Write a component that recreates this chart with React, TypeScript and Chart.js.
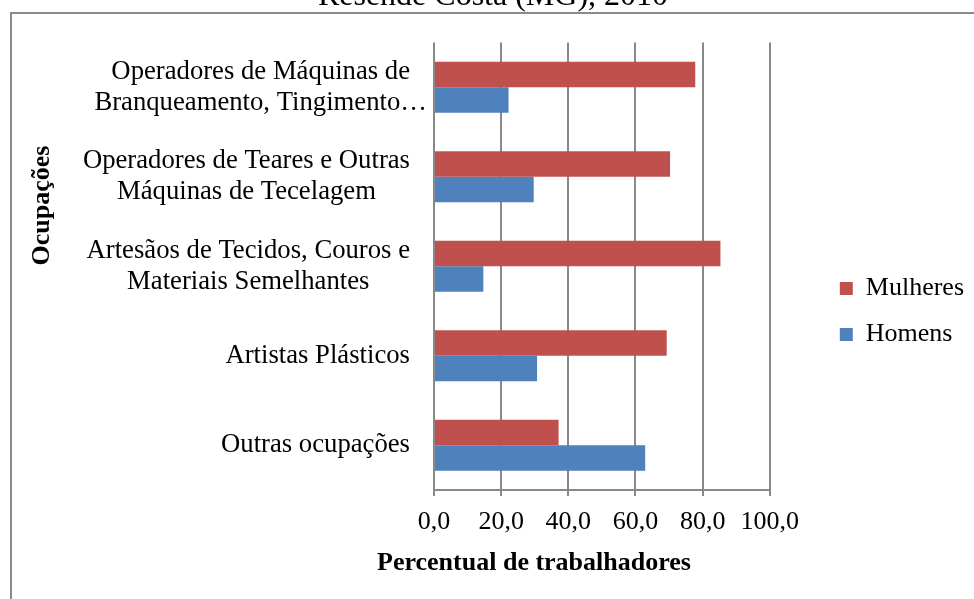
import React, { useEffect, useRef } from 'react';
import { Chart, registerables } from 'chart.js';

Chart.register(...registerables);

const chartTitle = 'Resende Costa (MG), 2010';
const categories: string[][] = [
  ['Operadores de Máquinas de', 'Branqueamento, Tingimento…'],
  ['Operadores de Teares e Outras', 'Máquinas de Tecelagem'],
  ['Artesãos de Tecidos, Couros e', 'Materiais Semelhantes'],
  ['Artistas Plásticos'],
  ['Outras ocupações'],
];
const seriesNames = ['Mulheres', 'Homens'];
const mulheres = [77.8, 70.3, 85.3, 69.3, 37.1];
const homens = [22.2, 29.7, 14.7, 30.7, 62.9];
const xMin = 0;
const xMax = 100;
const xStep = 20;
const xAxisTitle = 'Percentual de trabalhadores';
const yAxisTitle = 'Ocupações';

const FONT = '"Liberation Serif", "Times New Roman", serif';
const GRID = '#888888';

const customText = {
  id: 'customText',
  afterDraw(chart: any) {
    const { ctx, chartArea } = chart;
    const yScale = chart.scales.y;
    ctx.save();
    ctx.fillStyle = '#000';
    ctx.font = `26.7px ${FONT}`;
    ctx.textBaseline = 'middle';
    ctx.textAlign = 'center';
    const right = chartArea.left - 24;
    const lh = 31;
    categories.forEach((lines, i) => {
      const cy = yScale.getPixelForTick(i);
      const w = ctx.measureText(lines[0]).width;
      const cx = right - w / 2;
      lines.forEach((ln, j) => {
        ctx.fillText(ln, cx, cy + (j - (lines.length - 1) / 2) * lh);
      });
    });
    ctx.font = `bold 26px ${FONT}`;
    ctx.fillText(xAxisTitle, chartArea.left + 100, chartArea.bottom + 73);
    ctx.translate(chartArea.left - 392, chartArea.top + 163);
    ctx.rotate(-Math.PI / 2);
    ctx.fillText(yAxisTitle, 0, 0);
    ctx.restore();
  },
};

export default function App() {
  const ref = useRef<HTMLCanvasElement>(null);
  useEffect(() => {
    const chart = new Chart(ref.current as HTMLCanvasElement, {
      type: 'bar',
      data: {
        labels: categories as any,
        datasets: [
          {
            label: seriesNames[0],
            data: mulheres,
            backgroundColor: '#C0504D',
            borderWidth: 0,
            xAxisID: 'x',
            yAxisID: 'y',
          },
          {
            label: seriesNames[1],
            data: homens,
            backgroundColor: '#4F81BD',
            borderWidth: 0,
            xAxisID: 'x',
            yAxisID: 'y',
          },
        ],
      },
      options: {
        indexAxis: 'y',
        animation: false,
        responsive: true,
        maintainAspectRatio: false,
        devicePixelRatio: 1,
        layout: { padding: { left: 0, right: 12, top: 0, bottom: 0 } },
        datasets: { bar: { categoryPercentage: 0.57, barPercentage: 1.0 } },
        plugins: {
          title: {
            display: true,
            text: chartTitle,
            color: '#000',
            font: { family: FONT, size: 32, weight: 'normal' },
            padding: { top: 0, bottom: 27.2 },
          },
          legend: {
            display: true,
            position: 'right',
            labels: {
              color: '#000',
              font: { family: FONT, size: 26 },
              boxWidth: 13,
              boxHeight: 13,
              padding: 20,
            },
          },
          tooltip: { enabled: false },
        },
        scales: {
          x: {
            type: 'linear',
            position: 'bottom',
            min: xMin,
            max: xMax,
            ticks: {
              stepSize: xStep,
              color: '#000',
              font: { family: FONT, size: 26 },
              padding: 11,
              callback: (v: any) => Number(v).toFixed(1).replace('.', ','),
            },
            grid: { color: GRID, lineWidth: 2, drawTicks: true, tickLength: 6 },
            border: { display: true, color: GRID, width: 2 },
            afterFit: (s: any) => {
              s.height = 156;
            },
          },
          y: {
            type: 'category',
            position: 'left',
            ticks: { display: false },
            grid: { display: false },
            border: { display: false },
            afterFit: (s: any) => {
              s.width = 422;
            },
          },
          spacer: {
            type: 'linear',
            position: 'right',
            axis: 'y',
            ticks: { display: false },
            grid: { display: false },
            border: { display: false },
            afterFit: (s: any) => {
              s.width = 50;
            },
          },
        },
      } as any,
      plugins: [customText],
    });
    return () => chart.destroy();
  }, []);

  return (
    <div
      style={{
        position: 'fixed',
        left: 0,
        top: 0,
        width: 974,
        height: 599,
        overflow: 'hidden',
        background: '#fff',
      }}
    >
      <div
        style={{
          position: 'absolute',
          left: 10,
          top: 12,
          width: 1000,
          height: 700,
          border: '2px solid #8a8a8a',
          boxSizing: 'border-box',
        }}
      />
      <div style={{ position: 'absolute', left: 12, top: -23, width: 974, height: 669 }}>
        <canvas ref={ref} />
      </div>
    </div>
  );
}
